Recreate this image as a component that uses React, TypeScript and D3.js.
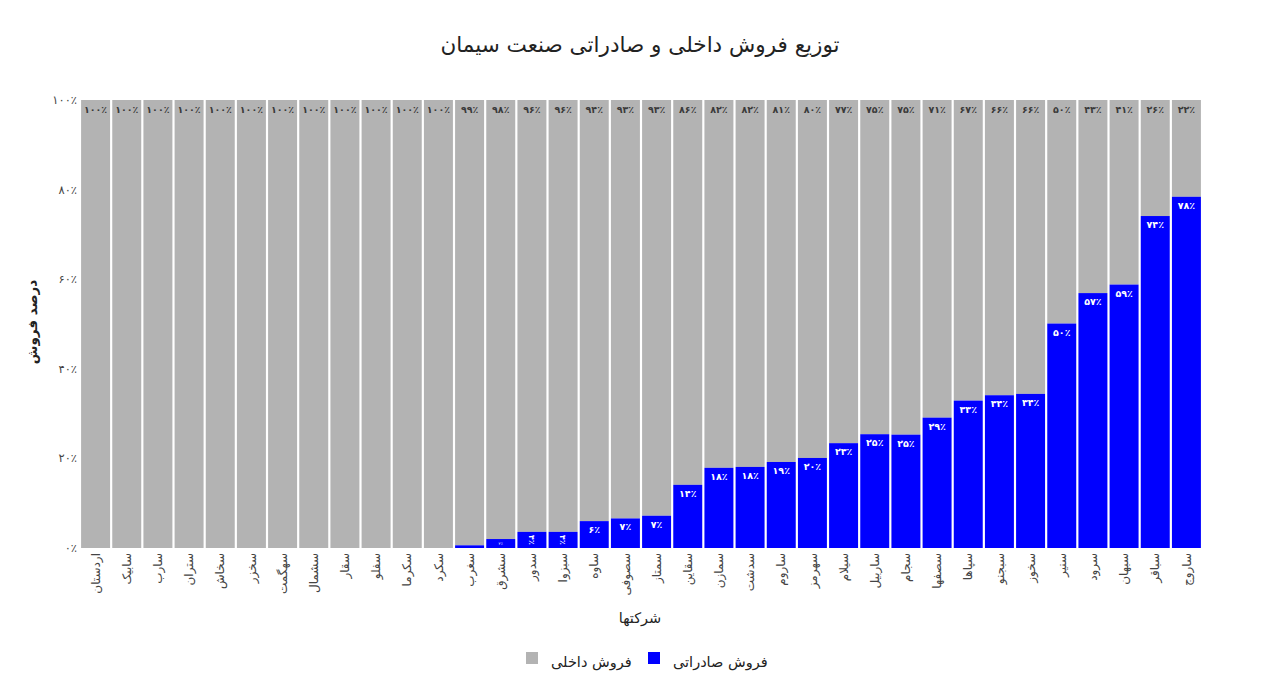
import React from "react";
import * as d3 from "d3";

const companies = [
  "اردستان", "سابیک", "سارب", "ستران", "سخاش", "سخزر", "سهگمت", "سشمال", "سقار", "سفلو", "سکرما", "سکرد",
  "سغرب", "سشرق", "سدور", "سبزوا", "ساوه", "سصوفی", "سمتاز", "سقاین", "سمازن", "سدشت", "ساروم", "سهرمز",
  "سیلام", "ساربیل", "سجام", "سصفها", "سپاها", "سبجنو", "سخوز", "سنیر", "سرود", "سبهان", "سباقر", "ساروج",
];

const exportShare = [
  0, 0, 0, 0, 0, 0, 0, 0, 0, 0, 0, 0,
  0.6, 2, 3.6, 3.6, 6, 6.6, 7.2, 14.1, 17.9, 18.1, 19.2, 20.1,
  23.4, 25.4, 25.3, 29.1, 32.9, 34.1, 34.4, 50.1, 56.9, 58.8, 74.1, 78.4,
];

const domesticShare = [
  100, 100, 100, 100, 100, 100, 100, 100, 100, 100, 100, 100,
  99.4, 98, 96.4, 96.4, 94, 93.4, 92.8, 85.9, 82.1, 81.9, 80.8, 79.9,
  76.6, 74.6, 74.7, 70.9, 67.1, 65.9, 65.6, 49.9, 43.1, 41.2, 25.9, 21.6,
];

const yTicks = [0, 20, 40, 60, 80, 100];

const title = "توزیع فروش داخلی و صادراتی صنعت سیمان";
const xTitle = "شرکتها";
const yTitle = "درصد فروش";
const legendExport = "فروش صادراتی";
const legendDomestic = "فروش داخلی";

const FA_DIGITS = "۰۱۲۳۴۵۶۷۸۹";
const fa = (n: number) =>
  String(Math.round(n)).replace(/[0-9]/g, (d) => FA_DIGITS[+d]) + "٪";

const FONT = "'DejaVu Sans', sans-serif";
const GRAY = "#b3b3b3";
const BLUE = "#0000ff";

export default function App() {
  const W = 1280;
  const H = 689;
  const left = 80;
  const right = 1202;
  const top = 100;
  const bottom = 548;

  const x = d3.scaleBand<string>().domain(companies).range([left, right]).paddingInner(0.07).paddingOuter(0.035);
  const y = d3.scaleLinear().domain([0, 100]).range([bottom, top]);
  const bw = x.bandwidth();

  return (
    <svg
      width={W}
      height={H}
      style={{ position: "fixed", left: 0, top: 0, background: "#fff" }}
      fontFamily={FONT}
    >
      <text x={640} y={52} textAnchor="middle" fontSize={21.5} fill="#222">
        {title}
      </text>

      {/* bars */}
      {companies.map((c, i) => {
        const x0 = x(c)!;
        const e = exportShare[i];
        const dm = domesticShare[i];
        const yE = y(e);
        const yD = y(e + dm);
        const hE = bottom - yE;
        const cx = x0 + bw / 2;
        let expLabel: React.ReactNode = null;
        if (e > 0) {
          if (hE >= 20) {
            expLabel = (
              <text x={cx} y={yE + 12} textAnchor="middle" fontSize={9.5} fontWeight="bold" fill="#fff">
                {fa(e)}
              </text>
            );
          } else if (hE >= 12) {
            expLabel = (
              <text
                transform={`translate(${cx},${yE + hE / 2}) rotate(90)`}
                textAnchor="middle"
                dy="0.35em"
                fontSize={8}
                fontWeight="bold"
                fill="#fff"
              >
                {fa(e)}
              </text>
            );
          } else if (hE >= 6) {
            expLabel = (
              <text x={cx} y={yE + hE / 2} dy="0.35em" textAnchor="middle" fontSize={4} fill="#fff">
                {fa(e)}
              </text>
            );
          }
        }
        return (
          <g key={c}>
            <rect x={x0} y={yD} width={bw} height={yE - yD} fill={GRAY} />
            {e > 0 && <rect x={x0} y={yE} width={bw} height={hE} fill={BLUE} />}
            <text x={cx} y={yD + 13} textAnchor="middle" fontSize={9.5} fontWeight="bold" fill="#3a3a3a">
              {fa(dm)}
            </text>
            {expLabel}
          </g>
        );
      })}

      {/* y axis labels */}
      {yTicks.map((t) => (
        <text key={t} x={77} y={y(t)} dy="0.35em" textAnchor="end" fontSize={11.5} fill="#444">
          {fa(t)}
        </text>
      ))}

      {/* x tick labels */}
      {companies.map((c) => (
        <text
          key={c}
          transform={`translate(${x(c)! + bw / 2},${bottom + 5}) rotate(-90)`}
          textAnchor="end"
          dy="0.35em"
          fontSize={12}
          fill="#444"
        >
          {c}
        </text>
      ))}

      <text x={640} y={623} textAnchor="middle" fontSize={14.5} fill="#222">
        {xTitle}
      </text>

      <text
        transform={`translate(32,322) rotate(-90)`}
        textAnchor="middle"
        dy="0.35em"
        fontSize={13.5}
        fontWeight="bold"
        fill="#222"
      >
        {yTitle}
      </text>

      {/* legend */}
      <rect x={648} y={652} width={12} height={12} fill={BLUE} />
      <text x={673} y={667} fontSize={14.5} fill="#222">
        {legendExport}
      </text>
      <rect x={526} y={652} width={12} height={12} fill={GRAY} />
      <text x={551} y={667} fontSize={14.5} fill="#222">
        {legendDomestic}
      </text>
    </svg>
  );
}
